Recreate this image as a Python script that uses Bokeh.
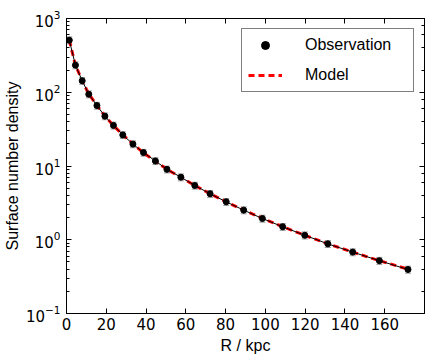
from bokeh.plotting import figure
from bokeh.models import (ColumnDataSource, Whisker, LinearAxis, LogAxis, Legend, LegendItem,
                          FixedTicker, Range1d, CustomJSTickFormatter)
from bokeh.embed import file_html
from bokeh.resources import INLINE

# ---- data ----
radius = [1.4, 4.5, 7.9, 11.2, 15.3, 19.3, 23.6, 28.3, 33.4, 38.7, 44.7, 50.5,
          57.5, 64.5, 72.2, 80.3, 89.1, 98.5, 108.7, 119.8, 131.4, 143.9, 157.3, 171.7]
observed = [508, 233, 143, 94, 66, 47.4, 35.5, 26.4, 19.8, 15.2, 11.7, 9.0,
            7.05, 5.44, 4.2, 3.27, 2.52, 1.94, 1.50, 1.15, 0.88, 0.68, 0.52, 0.395]
obs_err = [55, 25, 15, 10, 7, 5, 3.8, 2.8, 2.1, 1.6, 1.25, 0.95,
           0.75, 0.58, 0.45, 0.35, 0.27, 0.21, 0.16, 0.125, 0.095, 0.073, 0.056, 0.043]
model = [505, 235, 142, 95, 66.5, 47.6, 35.3, 26.5, 19.9, 15.1, 11.6, 9.05,
         7.0, 5.45, 4.2, 3.26, 2.53, 1.95, 1.5, 1.15, 0.88, 0.68, 0.52, 0.40]
x_ticks = [0, 20, 40, 60, 80, 100, 120, 140, 160]

src = ColumnDataSource(dict(
    r=radius, y=observed,
    lo=[v - e for v, e in zip(observed, obs_err)],
    hi=[v + e for v, e in zip(observed, obs_err)],
    m=model))

TICK_FONT = "DejaVu Sans"
LABEL_FONT = "Liberation Sans"

p = figure(output_backend="svg", toolbar_location=None,
           y_axis_type="log",
           x_range=Range1d(0, 180), y_range=Range1d(0.1, 1000),
           frame_width=358, frame_height=295,
           min_border_left=10, min_border_right=6, min_border_top=18, min_border_bottom=10,
           background_fill_color="white", border_fill_color="white")
p.grid.visible = False
p.outline_line_color = "black"
p.outline_line_width = 1

# model (red dashed)
model_r = p.line("r", "m", source=src, line_color="red", line_width=3, line_dash="6 4")
# observations: thin line, error bars, markers
p.line("r", "y", source=src, line_color="black", line_width=1)
wh = Whisker(base="r", lower="lo", upper="hi", source=src,
             line_color="#999999", line_width=1)
wh.upper_head.line_color = "#999999"
wh.lower_head.line_color = "#999999"
wh.upper_head.size = 6
wh.lower_head.size = 6
p.add_layout(wh)
obs_r = p.scatter("r", "y", source=src, size=6, fill_color="black", line_color="black")

# axes
xa = p.xaxis[0]
xa.ticker = FixedTicker(ticks=x_ticks)
ya = p.yaxis[0]
for ax in (xa, ya):
    ax.axis_line_color = "black"
    ax.major_tick_in = 5
    ax.major_tick_out = 0
    ax.minor_tick_in = 3
    ax.minor_tick_out = 0
    ax.major_tick_line_color = "black"
    ax.minor_tick_line_color = "black"
    ax.major_label_text_font = TICK_FONT
    ax.major_label_text_font_size = "15px"
    ax.major_label_text_color = "black"
    ax.axis_label_text_font = LABEL_FONT
    ax.axis_label_text_font_size = "16px"
    ax.axis_label_text_font_style = "normal"
    ax.axis_label_text_color = "black"
xa.minor_tick_line_color = None
xa.axis_label = "R / kpc"
ya.axis_label = "Surface number density"
xa.major_label_standoff = 4
ya.major_label_standoff = 6
xa.axis_label_standoff = 4
ya.axis_label_standoff = 2

blank = CustomJSTickFormatter(code="return ''")
top = LinearAxis(ticker=FixedTicker(ticks=x_ticks), formatter=blank,
                 major_tick_in=5, major_tick_out=0, minor_tick_line_color=None,
                 major_label_standoff=0)
right = LogAxis(formatter=blank, major_tick_in=5, major_tick_out=0,
                minor_tick_in=3, minor_tick_out=0, major_label_standoff=0)
p.add_layout(top, "above")
p.add_layout(right, "right")

legend = Legend(items=[LegendItem(label="Observation", renderers=[obs_r]),
                       LegendItem(label="Model", renderers=[model_r])],
                location="top_right",
                label_text_font=LABEL_FONT, label_text_font_size="16px",
                label_text_color="black",
                border_line_color="black", border_line_width=1,
                padding=6, spacing=10, glyph_width=34, glyph_height=20,
                label_standoff=23, label_width=102, label_height=20,
                margin=10)
p.add_layout(legend)

open("out.html", "w").write(file_html(p, INLINE))
